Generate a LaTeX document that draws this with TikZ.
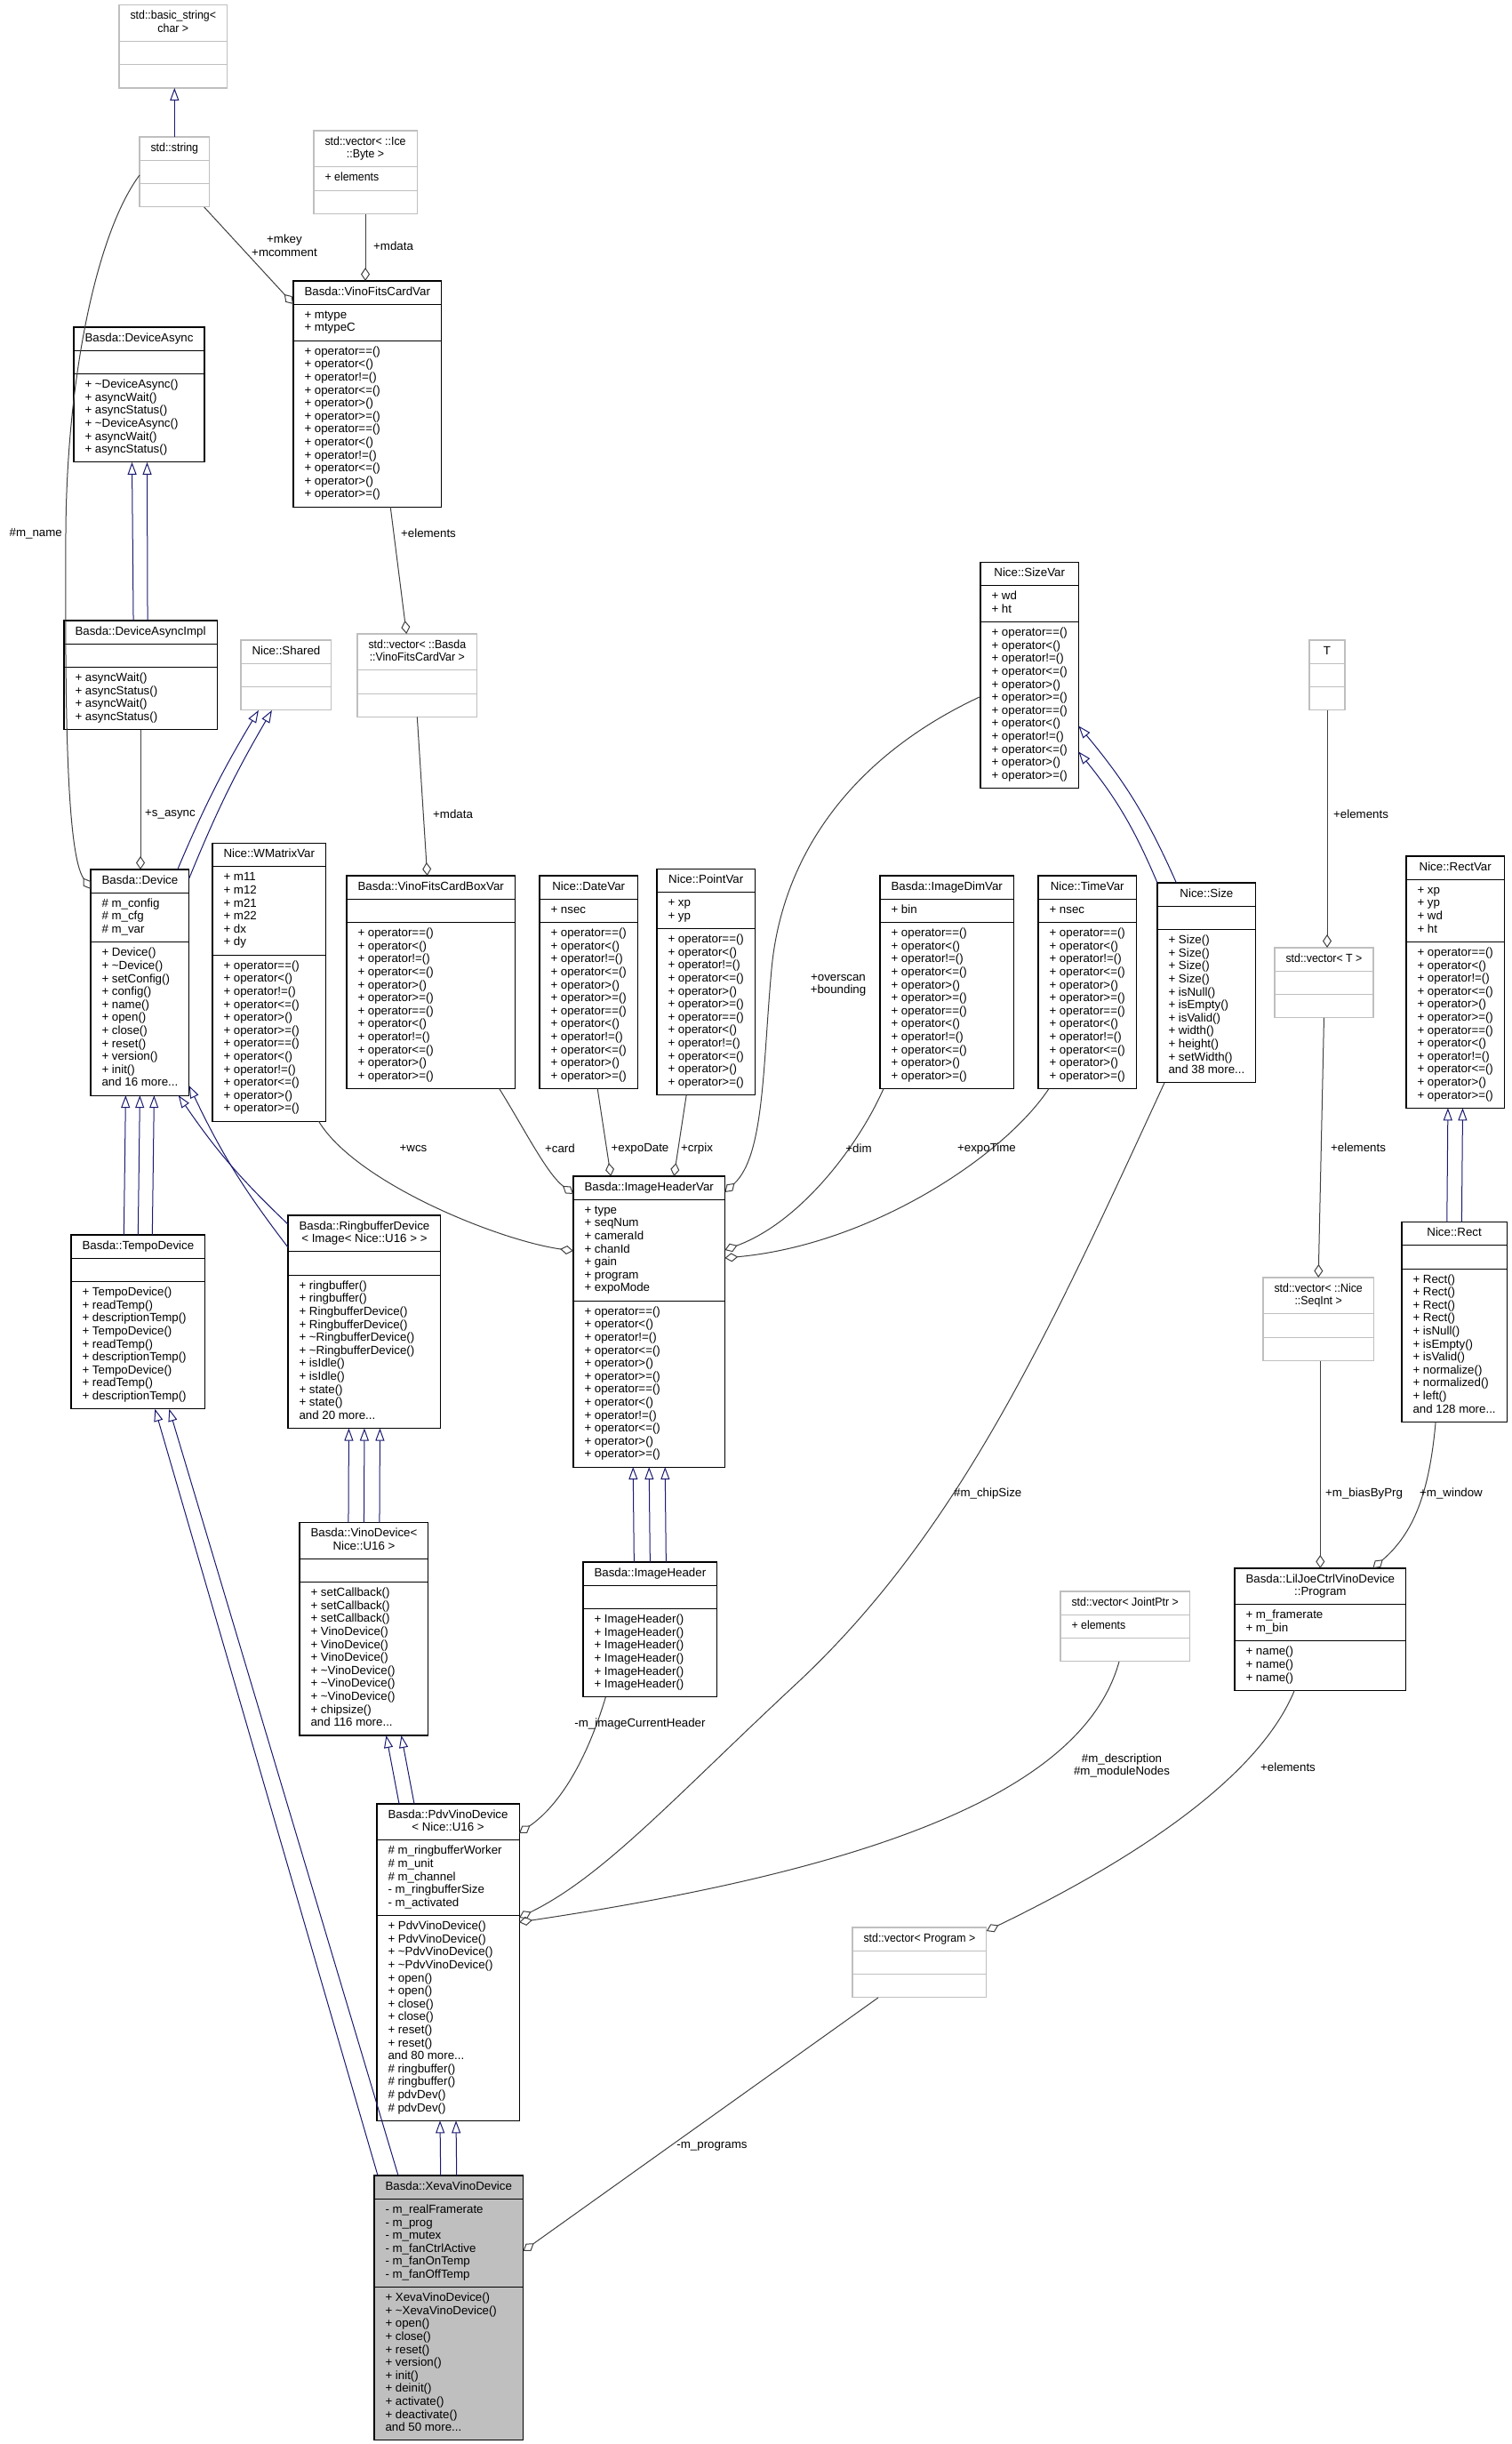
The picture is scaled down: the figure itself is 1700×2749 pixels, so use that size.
\documentclass[tikz,border=0pt]{standalone}
\usepackage{fontspec}
\usepackage{xcolor}
\usetikzlibrary{arrows.meta, shapes.multipart}

\newfontfamily\umlsans{Liberation Sans}
\newfontfamily\umlnarrow[FakeStretch=0.93]{Liberation Sans}
\newcommand\umlfont{\umlsans\fontsize{13.3}{14.6}\selectfont}
\newcommand\umlnfont{\umlnarrow\fontsize{13.3}{14.6}\selectfont}
\newcommand\clsname[1]{\begin{tabular}{@{}c@{}}#1\end{tabular}}
\newcommand\clsrows[1]{\begin{tabular}{@{}l@{}}#1\end{tabular}}
\newcommand\tld{\textasciitilde}
\newcommand\cmpops{+ operator==()\\+ operator<()\\+ operator!=()\\+ operator<=()\\+ operator>()\\+ operator>=()}
\definecolor{inhblue}{HTML}{191970}
\definecolor{edgegray}{HTML}{404040}
\definecolor{boxgray}{HTML}{BFBFBF}

\begin{document}
\begin{tikzpicture}[x=1pt, y=-1pt,
    cls/.style={rectangle split, rectangle split parts=3,
        rectangle split part align={center,left,left},
        draw=black, line width=1.1pt, fill=white,
        inner xsep=12.5pt, inner ysep=5.3pt, outer sep=0pt,
        anchor=north west, font=\umlfont},
    ext/.style={cls, draw=boxgray},
    extn/.style={ext, font=\umlnfont},
    inh/.style={draw=inhblue, line width=1pt,
        -{Triangle[open, length=14pt, width=10pt, line width=1pt]}},
    agg/.style={draw=edgegray, line width=1pt,
        -{Diamond[open, length=15pt, width=10pt, line width=1pt]}},
    lbl/.style={font=\umlfont, inner sep=0pt, align=center}]

    \useasboundingbox (0,0) rectangle (1700,2749);
    \fill[white] (0,0) rectangle (1700,2749);

    % Strings and fits cards
    \node[extn] (basicstr) at (134,5.5) {\clsname{std::basic\_string<\\char >}\nodepart{two}\strut\nodepart{three}\strut};
    \node[extn] (stdstr) at (157,154) {\clsname{std::string}\nodepart{two}\strut\nodepart{three}\strut};
    \node[extn] (icebyte) at (353,147) {\clsname{std::vector< ::Ice\\::Byte >}\nodepart{two}\clsrows{+ elements}\nodepart{three}\strut};
    \node[cls] (cardvar) at (330,316) {\clsname{Basda::VinoFitsCardVar}\nodepart{two}\clsrows{+ mtype\\+ mtypeC}\nodepart{three}\clsrows{\cmpops\\\cmpops}};
    \node[extn] (cardvec) at (402,713) {\clsname{std::vector< ::Basda\\::VinoFitsCardVar >}\nodepart{two}\strut\nodepart{three}\strut};
    \node[cls] (cardbox) at (390,985) {\clsname{Basda::VinoFitsCardBoxVar}\nodepart{two}\strut\nodepart{three}\clsrows{\cmpops\\\cmpops}};

    % Device base classes
    \node[cls] (async) at (83,368) {\clsname{Basda::DeviceAsync}\nodepart{two}\strut\nodepart{three}\clsrows{+ \tld DeviceAsync()\\+ asyncWait()\\+ asyncStatus()\\+ \tld DeviceAsync()\\+ asyncWait()\\+ asyncStatus()}};
    \node[cls] (asyncimpl) at (72,698) {\clsname{Basda::DeviceAsyncImpl}\nodepart{two}\strut\nodepart{three}\clsrows{+ asyncWait()\\+ asyncStatus()\\+ asyncWait()\\+ asyncStatus()}};
    \node[ext] (shared) at (271,720) {\clsname{Nice::Shared}\nodepart{two}\strut\nodepart{three}\strut};
    \node[cls] (device) at (102,978) {\clsname{Basda::Device}\nodepart{two}\clsrows{\# m\_config\\\# m\_cfg\\\# m\_var}\nodepart{three}\clsrows{+ Device()\\+ \tld Device()\\+ setConfig()\\+ config()\\+ name()\\+ open()\\+ close()\\+ reset()\\+ version()\\+ init()\\and 16 more...}};
    \node[cls] (wmatrix) at (239,948.6) {\clsname{Nice::WMatrixVar}\nodepart{two}\clsrows{+ m11\\+ m12\\+ m21\\+ m22\\+ dx\\+ dy}\nodepart{three}\clsrows{\cmpops\\\cmpops}};

    % Value types
    \node[cls] (datevar) at (607,985) {\clsname{Nice::DateVar}\nodepart{two}\clsrows{+ nsec}\nodepart{three}\clsrows{\cmpops\\\cmpops}};
    \node[cls] (pointvar) at (739,977.5) {\clsname{Nice::PointVar}\nodepart{two}\clsrows{+ xp\\+ yp}\nodepart{three}\clsrows{\cmpops\\\cmpops}};
    \node[cls] (sizevar) at (1103,632.5) {\clsname{Nice::SizeVar}\nodepart{two}\clsrows{+ wd\\+ ht}\nodepart{three}\clsrows{\cmpops\\\cmpops}};
    \node[cls] (imagedim) at (990,985) {\clsname{Basda::ImageDimVar}\nodepart{two}\clsrows{+ bin}\nodepart{three}\clsrows{\cmpops\\\cmpops}};
    \node[cls] (timevar) at (1168,985) {\clsname{Nice::TimeVar}\nodepart{two}\clsrows{+ nsec}\nodepart{three}\clsrows{\cmpops\\\cmpops}};
    \node[cls] (nicesize) at (1302,993) {\clsname{Nice::Size}\nodepart{two}\strut\nodepart{three}\clsrows{+ Size()\\+ Size()\\+ Size()\\+ Size()\\+ isNull()\\+ isEmpty()\\+ isValid()\\+ width()\\+ height()\\+ setWidth()\\and 38 more...}};
    \node[ext, minimum width=40pt] (tparam) at (1473,720) {\clsname{T}\nodepart{two}\strut\nodepart{three}\strut};
    \node[extn] (tvec) at (1434,1066) {\clsname{std::vector< T >}\nodepart{two}\strut\nodepart{three}\strut};
    \node[cls] (rectvar) at (1582,963) {\clsname{Nice::RectVar}\nodepart{two}\clsrows{+ xp\\+ yp\\+ wd\\+ ht}\nodepart{three}\clsrows{\cmpops\\\cmpops}};
    \node[cls] (nicerect) at (1577,1374.5) {\clsname{Nice::Rect}\nodepart{two}\strut\nodepart{three}\clsrows{+ Rect()\\+ Rect()\\+ Rect()\\+ Rect()\\+ isNull()\\+ isEmpty()\\+ isValid()\\+ normalize()\\+ normalized()\\+ left()\\and 128 more...}};
    \node[extn] (seqint) at (1421,1437) {\clsname{std::vector< ::Nice\\::SeqInt >}\nodepart{two}\strut\nodepart{three}\strut};

    % Device chain
    \node[cls] (tempo) at (80,1389) {\clsname{Basda::TempoDevice}\nodepart{two}\strut\nodepart{three}\clsrows{+ TempoDevice()\\+ readTemp()\\+ descriptionTemp()\\+ TempoDevice()\\+ readTemp()\\+ descriptionTemp()\\+ TempoDevice()\\+ readTemp()\\+ descriptionTemp()}};
    \node[cls] (ringbuf) at (324,1367) {\clsname{Basda::RingbufferDevice\\< Image< Nice::U16 > >}\nodepart{two}\strut\nodepart{three}\clsrows{+ ringbuffer()\\+ ringbuffer()\\+ RingbufferDevice()\\+ RingbufferDevice()\\+ \tld RingbufferDevice()\\+ \tld RingbufferDevice()\\+ isIdle()\\+ isIdle()\\+ state()\\+ state()\\and 20 more...}};
    \node[cls] (headervar) at (645,1323) {\clsname{Basda::ImageHeaderVar}\nodepart{two}\clsrows{+ type\\+ seqNum\\+ cameraId\\+ chanId\\+ gain\\+ program\\+ expoMode}\nodepart{three}\clsrows{\cmpops\\\cmpops}};
    \node[cls] (header) at (656,1757) {\clsname{Basda::ImageHeader}\nodepart{two}\strut\nodepart{three}\clsrows{+ ImageHeader()\\+ ImageHeader()\\+ ImageHeader()\\+ ImageHeader()\\+ ImageHeader()\\+ ImageHeader()}};
    \node[cls] (vinodev) at (337,1712.5) {\clsname{Basda::VinoDevice<\\Nice::U16 >}\nodepart{two}\strut\nodepart{three}\clsrows{+ setCallback()\\+ setCallback()\\+ setCallback()\\+ VinoDevice()\\+ VinoDevice()\\+ VinoDevice()\\+ \tld VinoDevice()\\+ \tld VinoDevice()\\+ \tld VinoDevice()\\+ chipsize()\\and 116 more...}};
    \node[cls] (pdvdev) at (424,2029) {\clsname{Basda::PdvVinoDevice\\< Nice::U16 >}\nodepart{two}\clsrows{\# m\_ringbufferWorker\\\# m\_unit\\\# m\_channel\\- m\_ringbufferSize\\- m\_activated}\nodepart{three}\clsrows{+ PdvVinoDevice()\\+ PdvVinoDevice()\\+ \tld PdvVinoDevice()\\+ \tld PdvVinoDevice()\\+ open()\\+ open()\\+ close()\\+ close()\\+ reset()\\+ reset()\\and 80 more...\\\# ringbuffer()\\\# ringbuffer()\\\# pdvDev()\\\# pdvDev()}};
    \node[extn] (jointvec) at (1193,1790) {\clsname{std::vector< JointPtr >}\nodepart{two}\clsrows{+ elements}\nodepart{three}\strut};
    \node[cls] (program) at (1389,1764) {\clsname{Basda::LilJoeCtrlVinoDevice\\::Program}\nodepart{two}\clsrows{+ m\_framerate\\+ m\_bin}\nodepart{three}\clsrows{+ name()\\+ name()\\+ name()}};
    \node[extn] (progvec) at (959,2168) {\clsname{std::vector< Program >}\nodepart{two}\strut\nodepart{three}\strut};
    \node[cls, fill=boxgray] (xeva) at (421,2447) {\clsname{Basda::XevaVinoDevice}\nodepart{two}\clsrows{- m\_realFramerate\\- m\_prog\\- m\_mutex\\- m\_fanCtrlActive\\- m\_fanOnTemp\\- m\_fanOffTemp}\nodepart{three}\clsrows{+ XevaVinoDevice()\\+ \tld XevaVinoDevice()\\+ open()\\+ close()\\+ reset()\\+ version()\\+ init()\\+ deinit()\\+ activate()\\+ deactivate()\\and 50 more...}};

    % Inheritance
    \draw[inh] (stdstr.north) -- (stdstr.north |- basicstr.south);
    \draw[inh] ([xshift=-8]asyncimpl.north) -- ([xshift=-8]async.south);
    \draw[inh] ([xshift=8]asyncimpl.north) -- ([xshift=9]async.south);
    \draw[inh] ([xshift=-13]device.north east) to[bend left=4] ([xshift=-31]shared.south);
    \draw[inh] ([yshift=-10]device.north east) to[bend left=4] ([xshift=-16]shared.south);
    \foreach \dx in {-16,0,16}
        \draw[inh] ([xshift=\dx]tempo.north) -- ([xshift=\dx]device.south);
    \draw[inh] ([yshift=-10]ringbuf.north west) to[bend left=6] ([xshift=-12]device.south east);
    \draw[inh] ([yshift=-36]ringbuf.north west) to[bend left=6] ([yshift=11]device.south east);
    \foreach \dx in {-17.5,0,17.5}
        \draw[inh] ([xshift=\dx]vinodev.north) -- ([xshift=\dx]ringbuf.south);
    \draw[inh] ([xshift=-55]pdvdev.north) -- ([xshift=25]vinodev.south);
    \draw[inh] ([xshift=-38]pdvdev.north) -- ([xshift=42]vinodev.south);
    \foreach \dx in {-9,9}
        \draw[inh] ([xshift=\dx]xeva.north) -- ([xshift=\dx]pdvdev.south);
    \draw[inh] ([xshift=4]xeva.north west) -- ([xshift=19]tempo.south);
    \draw[inh] ([xshift=27]xeva.north west) -- ([xshift=35]tempo.south);
    \foreach \dx in {-18,0,18}
        \draw[inh] ([xshift=\dx]header.north) -- ([xshift=\dx]headervar.south);
    \draw[inh] ([xshift=-34]nicesize.north) to[bend right=8] ([yshift=-184]sizevar.north east);
    \draw[inh] (nicesize.north west) to[bend right=8] ([yshift=-213]sizevar.north east);
    \foreach \dx in {-8.3,8.3}
        \draw[inh] ([xshift=\dx]nicerect.north) -- ([xshift=\dx]rectvar.south);

    % Members
    \draw[agg] ([xshift=-6]stdstr.south east) -- ([yshift=-26]cardvar.north west);
    \node[lbl] (lmkey) at (320,276) {+mkey\\+mcomment};
    \draw[agg] (icebyte.south) -- (icebyte.south |- cardvar.north);
    \node[lbl, anchor=west] (lmdata) at (420,277) {+mdata};
    \draw[agg] ([yshift=-43]stdstr.north west) .. controls (110,260) and (75,420) .. (74,600)
        .. controls (73,800) and (75,960) .. ([yshift=-22]device.north west);
    \node[lbl, anchor=east] (lname) at (70,600) {\#m\_name};
    \draw[agg] (asyncimpl.south) -- (asyncimpl.south |- device.north);
    \node[lbl, anchor=west] (lasync) at (163,916) {+s\_async};
    \draw[agg] ([xshift=26]cardvar.south) -- ([xshift=-12]cardvec.north);
    \node[lbl] (lcardelem) at (482,600) {+elements};
    \draw[agg] (cardvec.south) -- ([xshift=-4]cardbox.north);
    \node[lbl, anchor=west] (lcardmdata) at (487,916) {+mdata};
    \draw[agg] ([xshift=77]cardbox.south) .. controls (590,1270) and (615,1320) .. ([yshift=-20]headervar.north west);
    \node[lbl] (lcard) at (630,1292) {+card};
    \draw[agg] ([xshift=10]datevar.south) -- ([xshift=-43]headervar.north);
    \node[lbl] (lexpodate) at (720,1292) {+expoDate};
    \draw[agg] ([xshift=-22]pointvar.south) -- ([xshift=28]headervar.north);
    \node[lbl] (lcrpix) at (784,1292) {+crpix};
    \draw[agg] ([xshift=-8]wmatrix.south east) .. controls (400,1330) and (560,1395) .. ([yshift=-84]headervar.north west);
    \node[lbl] (lwcs) at (465,1292) {+wcs};
    \draw[agg] ([yshift=-151]sizevar.north west) .. controls (960,850) and (880,960) .. (868,1090)
        .. controls (858,1200) and (860,1300) .. ([yshift=-18]headervar.north east);
    \node[lbl] (lover) at (943,1108) {+overscan\\+bounding};
    \draw[agg] ([xshift=4]imagedim.south west) .. controls (965,1290) and (900,1375) .. ([yshift=-83]headervar.north east);
    \node[lbl] (ldim) at (966,1292) {+dim};
    \draw[agg] ([xshift=12]timevar.south west) .. controls (1130,1300) and (980,1400) .. ([yshift=-92]headervar.north east);
    \node[lbl] (lexpotime) at (1110,1292) {+expoTime};
    \draw[agg] ([xshift=-50]header.south) .. controls (660,1980) and (630,2030) .. ([yshift=-33]pdvdev.north east);
    \node[lbl] (lcurhdr) at (720,1939) {-m\_imageCurrentHeader};
    \draw[agg] ([xshift=8]nicesize.south west) .. controls (1180,1500) and (1080,1720) .. (900,1890)
        .. controls (760,2020) and (680,2110) .. ([yshift=-128]pdvdev.north east);
    \node[lbl, anchor=west] (lchip) at (1073,1680) {\#m\_chipSize};
    \draw[agg] ([xshift=66]jointvec.south west) .. controls (1220,2010) and (1000,2100) .. ([yshift=-133]pdvdev.north east);
    \node[lbl] (ldesc) at (1262,1986) {\#m\_description\\\#m\_moduleNodes};
    \draw[agg] (tparam.south) -- (tparam.south |- tvec.north);
    \node[lbl, anchor=west] (ltelem) at (1500,916) {+elements};
    \draw[agg] (tvec.south) -- (seqint.north);
    \node[lbl, anchor=west] (lseqelem) at (1497,1291) {+elements};
    \draw[agg] (program.north |- seqint.south) -- (program.north);
    \node[lbl, anchor=west] (lbias) at (1491,1680) {+m\_biasByPrg};
    \draw[agg] ([xshift=-21]nicerect.south) .. controls (1608,1680) and (1590,1725) .. ([xshift=59]program.north);
    \node[lbl, anchor=west] (lwindow) at (1597,1680) {+m\_window};
    \draw[agg] ([xshift=-29]program.south) .. controls (1420,1990) and (1300,2080) .. ([yshift=-4]progvec.north east);
    \node[lbl] (lprogelem) at (1449,1988) {+elements};
    \draw[agg] ([xshift=29]progvec.south west) -- ([yshift=-85]xeva.north east);
    \node[lbl] (lprograms) at (801,2414) {-m\_programs};
\end{tikzpicture}
\end{document}
